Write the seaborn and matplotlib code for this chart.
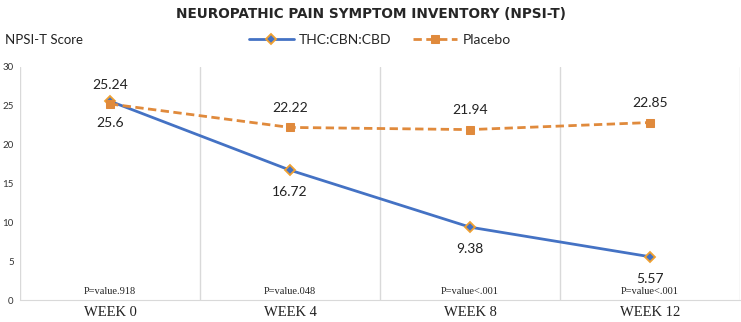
import numpy as np
import pandas as pd
import matplotlib
matplotlib.use('Agg')
import matplotlib.pyplot as plt
import seaborn as sns

# dados
weeks = ['WEEK 0', 'WEEK 4', 'WEEK 8', 'WEEK 12']
thc = [25.6, 16.72, 9.38, 5.57]
placebo = [25.24, 22.22, 21.94, 22.85]
p_values = ['P=value.918', 'P=value.048', 'P=value<.001', 'P=value<.001']
y_ticks = [0, 5, 10, 15, 20, 25, 30]

Base = pd.DataFrame({
    'pos': list(range(len(weeks))) * 2,
    'score': thc + placebo,
    'grupo': ['THC:CBN:CBD'] * len(weeks) + ['Placebo'] * len(weeks),
})

sns.set_style('white')
plt.rcParams['font.family'] = ['Lato', 'DejaVu Sans']

azul = '#4472C4'
laranja = '#E08A3C'

fig = plt.figure(figsize=(7.41, 3.22), dpi=100)
ax = fig.add_axes([20 / 741, 22 / 322, 720 / 741, 233 / 322])

sns.lineplot(data=Base[Base['grupo'] == 'THC:CBN:CBD'], x='pos', y='score', ax=ax,
             color=azul, marker='D', markersize=5.5, markerfacecolor=azul,
             markeredgecolor='#F0A030', markeredgewidth=1.3, linewidth=2,
             label='THC:CBN:CBD')
sns.lineplot(data=Base[Base['grupo'] == 'Placebo'], x='pos', y='score', ax=ax,
             color=laranja, marker='s', markersize=6, markerfacecolor=laranja,
             markeredgecolor=laranja, linewidth=2,
             label='Placebo')
ax.lines[1].set_linestyle((0, (3, 1.6)))

# rotulos dos valores
for i in range(len(weeks)):
    ax.annotate(f'{placebo[i]:g}', (i, placebo[i]), xytext=(0, 14),
                textcoords='offset points', ha='center', va='center',
                fontsize=10, color='#222222')
    ax.annotate(f'{thc[i]:g}', (i, thc[i]), xytext=(0, -16),
                textcoords='offset points', ha='center', va='center',
                fontsize=10, color='#222222')
    ax.text(i, 1.05, p_values[i], ha='center', va='center', fontsize=7.5,
            family='Liberation Serif', color='#222222')

ax.set_xlim(-0.5, len(weeks) - 0.5)
ax.set_ylim(0, 30)
ax.set_xticks([i + 0.5 for i in range(-1, len(weeks))], minor=False)
ax.set_xticklabels([])
ax.grid(axis='x', color='#D9D9D9', linewidth=1)
ax.tick_params(axis='x', length=0)
ax.set_xlabel('')
ax.set_ylabel('')
ax.set_yticks(y_ticks)
ax.set_yticklabels([str(v) for v in y_ticks], fontsize=7, color='#333333')
ax.tick_params(axis='y', length=0, pad=4.5)

for i, w in enumerate(weeks):
    ax.text(i, -1.55, w, ha='center', va='center', fontsize=10.5,
            family='Liberation Serif', color='#222222')

for s in ['left', 'right', 'top']:
    ax.spines[s].set_visible(False)
ax.spines['bottom'].set_color('#D9D9D9')

ax.legend_.remove()
h, l = ax.get_legend_handles_labels()
fig.legend(h, l, loc='center', bbox_to_anchor=(380 / 741, 1 - 40 / 322), ncol=2,
           frameon=False, fontsize=10, handlelength=3.2, columnspacing=1.5,
           handletextpad=0.4)

fig.text(371 / 741, 1 - 14 / 322, 'NEUROPATHIC PAIN SYMPTOM INVENTORY (NPSI-T)',
         ha='center', va='center', fontsize=9.8, fontweight='bold',
         family='DejaVu Sans', color='#262626')
fig.text(5 / 741, 1 - 40 / 322, 'NPSI-T Score', ha='left', va='center',
         fontsize=9.5, color='#222222')

fig.savefig('out.png', dpi=100)
